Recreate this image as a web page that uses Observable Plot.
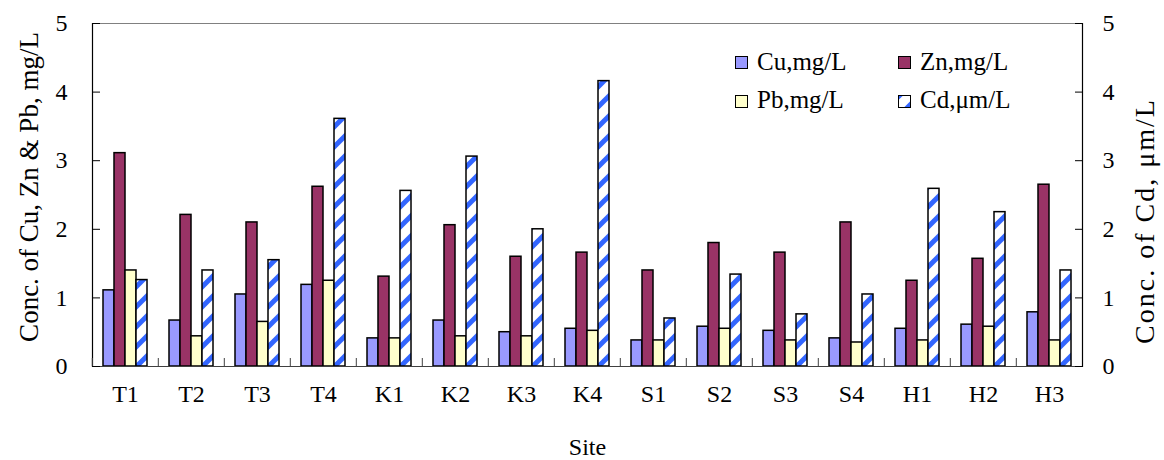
<!DOCTYPE html>
<html>
<head>
<meta charset="utf-8">
<script src="https://cdn.jsdelivr.net/npm/d3@7"></script>
<script src="https://cdn.jsdelivr.net/npm/@observablehq/plot@0.6"></script>
<style>
  html, body { margin: 0; padding: 0; background: #fff; }
  #wrap { position: relative; width: 1164px; height: 460px; overflow: hidden; }
  #wrap svg text { font-family: "Liberation Serif", "Times New Roman", serif; }
  .lg { position: absolute; font-family: "Liberation Serif", "Times New Roman", serif; font-size: 25px; line-height: 28px; color: #000; white-space: nowrap; }
  .sw { position: absolute; width: 11px; height: 11px; border: 1.5px solid #000; }
</style>
</head>
<body>
<div id="wrap"></div>
<script>
// ---- data ----
const sites = ["T1","T2","T3","T4","K1","K2","K3","K4","S1","S2","S3","S4","H1","H2","H3"];
const cu = [1.11, 0.67, 1.05, 1.19, 0.41, 0.67, 0.50, 0.55, 0.38, 0.58, 0.52, 0.41, 0.55, 0.61, 0.79];
const zn = [3.11, 2.21, 2.10, 2.62, 1.31, 2.06, 1.60, 1.66, 1.40, 1.80, 1.66, 2.10, 1.25, 1.57, 2.65];
const pb = [1.40, 0.44, 0.65, 1.25, 0.41, 0.44, 0.44, 0.52, 0.38, 0.55, 0.38, 0.35, 0.38, 0.58, 0.38];
const cd = [1.26, 1.40, 1.55, 3.61, 2.56, 3.06, 2.00, 4.16, 0.70, 1.34, 0.76, 1.05, 2.59, 2.25, 1.40];
const seriesNames = ["Cu,mg/L", "Zn,mg/L", "Pb,mg/L", "Cd,μm/L"];
const seriesFills = ["#9999ff", "#993366", "#ffffcc", "url(#cdStripe)"];
const yTicks = [0, 1, 2, 3, 4, 5];
const leftTitle = "Conc. of Cu, Zn & Pb, mg/L";
const rightTitle = "Conc. of Cd, μm/L";
const xTitle = "Site";

// ---- table ----
const seriesValues = [cu, zn, pb, cd];
const rows = [];
sites.forEach((s, i) => seriesNames.forEach((n, k) => rows.push({site: s, series: n, value: seriesValues[k][i]})));

const W = 1164, H = 460, mL = 89, mR = 79, mT = 23, mB = 94;
const groupW = (W - mL - mR) / sites.length;
const serif = '"Liberation Serif", "Times New Roman", serif';

const chart = Plot.plot({
  width: W, height: H,
  marginLeft: mL, marginRight: mR, marginTop: mT, marginBottom: mB,
  style: {fontFamily: serif, fontSize: "24px", color: "#000", background: "#fff", overflow: "visible"},
  fx: {domain: sites, paddingInner: 0, paddingOuter: 0, label: null},
  x: {domain: seriesNames, paddingInner: 0, paddingOuter: 0.77, axis: null},
  y: {domain: [0, 5], label: null},
  color: {domain: seriesNames, range: seriesFills},
  marks: [
    Plot.barY(rows, {fx: "site", x: "series", y: "value", fill: "series", stroke: "#000", strokeWidth: 1.5}),
    Plot.ruleY([5], {stroke: "#808080", strokeWidth: 1}),
    Plot.ruleY([0], {stroke: "#404040", strokeWidth: 1.2}),
    Plot.frame({anchor: "left", facetAnchor: "left", stroke: "#000", strokeWidth: 1.2}),
    Plot.frame({anchor: "right", facetAnchor: "right", stroke: "#000", strokeWidth: 1.2}),
    Plot.axisY({anchor: "left", ticks: yTicks, tickFormat: d => d, tickSize: 8, insetLeft: 8, tickPadding: 25, label: null, stroke: "#000", fontFamily: serif}),
    Plot.axisY({anchor: "right", ticks: yTicks, tickFormat: d => d, tickSize: 8, insetRight: 8, tickPadding: 20, label: null, stroke: "#000", fontFamily: serif}),
    Plot.axisFx({anchor: "bottom", tickSize: 0, tickPadding: 18, label: xTitle, labelAnchor: "center", labelOffset: 88, fontFamily: serif}),
    Plot.axisFx({anchor: "bottom", tickSize: 8, insetBottom: 8, dx: -groupW / 2, tickFormat: () => "", label: null, stroke: "#404040"}),
    Plot.text([leftTitle], {text: d => d, frameAnchor: "left", facetAnchor: "left", rotate: -90, dx: -63, dy: -8, fontSize: 27, fontFamily: serif, lineAnchor: "middle", textAnchor: "middle"}),
    Plot.text([rightTitle], {text: d => d, frameAnchor: "right", facetAnchor: "right", rotate: -90, dx: 63, dy: 26, fontSize: 28, fontFamily: serif, lineAnchor: "middle", textAnchor: "middle"})
  ]
});

// stripe pattern for the Cd series
d3.select(chart).insert("defs", ":first-child").html(
  '<pattern id="cdStripe" patternUnits="userSpaceOnUse" width="20" height="20">' +
  '<rect width="20" height="20" fill="#fff"/>' +
  '<path d="M-5,5 L5,-5 M0,20 L20,0 M15,25 L25,15" stroke="#3366ff" stroke-width="5"/>' +
  '</pattern>'
);
// slightly wider tracking on the right-hand title, as in the original
d3.select(chart).selectAll("text").filter(function() { return this.textContent === rightTitle; })
  .style("letter-spacing", "2px");

const wrap = document.getElementById("wrap");
wrap.appendChild(chart);

// legend (inside plot area, top right)
const legendPos = [
  {sx: 735, sy: 56, tx: 757, ty: 48},
  {sx: 898, sy: 56, tx: 920, ty: 48},
  {sx: 735, sy: 95, tx: 757, ty: 86},
  {sx: 898, sy: 95, tx: 920, ty: 86}
];
seriesNames.forEach((n, k) => {
  const p = legendPos[k];
  const sw = document.createElement("div");
  sw.className = "sw";
  sw.style.left = p.sx + "px"; sw.style.top = p.sy + "px";
  if (k === 3) {
    sw.style.background = "#fff";
    sw.innerHTML = '<svg width="11" height="11" style="display:block"><rect width="11" height="11" fill="url(#cdStripe)"/></svg>';
  } else {
    sw.style.background = seriesFills[k];
  }
  wrap.appendChild(sw);
  const t = document.createElement("div");
  t.className = "lg";
  t.style.left = p.tx + "px"; t.style.top = p.ty + "px";
  t.textContent = n;
  wrap.appendChild(t);
});
</script>
</body>
</html>
